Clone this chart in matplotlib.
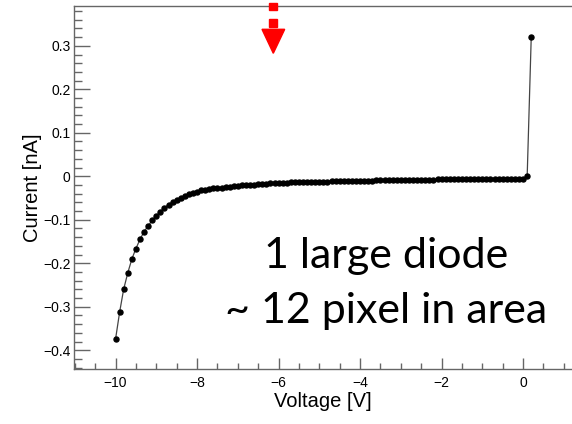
import numpy as np
import matplotlib
matplotlib.use("Agg")
import matplotlib.pyplot as plt
from matplotlib.ticker import MultipleLocator, FuncFormatter
from matplotlib.patches import Polygon, Rectangle

# voltage sweep, 0.1 V steps
voltage = np.round(np.linspace(-10.0, 0.2, 103), 1)
current = [
    -0.374, -0.312, -0.259, -0.222, -0.190, -0.166, -0.145, -0.127, -0.114, -0.101,
    -0.091, -0.081, -0.072, -0.065, -0.059, -0.054, -0.049, -0.045, -0.041, -0.038,
    -0.035, -0.032, -0.031, -0.030, -0.028, -0.027, -0.026, -0.025, -0.024, -0.023,
    -0.022, -0.021, -0.020, -0.019, -0.019, -0.018, -0.017, -0.017, -0.016, -0.016,
    -0.015, -0.015, -0.015, -0.014, -0.014, -0.014, -0.013, -0.013, -0.013, -0.012,
    -0.012, -0.012, -0.012, -0.011, -0.011, -0.011, -0.011, -0.011, -0.010, -0.010,
    -0.010, -0.010, -0.010, -0.010, -0.009, -0.009, -0.009, -0.009, -0.009, -0.009,
    -0.009, -0.008, -0.008, -0.008, -0.008, -0.008, -0.008, -0.008, -0.008, -0.007,
    -0.007, -0.007, -0.007, -0.007, -0.007, -0.007, -0.007, -0.007, -0.007, -0.007,
    -0.006, -0.006, -0.006, -0.006, -0.006, -0.006, -0.006, -0.006, -0.006, -0.006,
    -0.006, 0.000, 0.321,
]
note_lines = ["1 large diode", "~ 12 pixel in area"]

W, H = 572, 424
plt.rcParams["font.family"] = ["Liberation Sans", "DejaVu Sans"]

fig = plt.figure(figsize=(W / 100, H / 100), dpi=100)
ax = fig.add_axes([74 / W, (H - 369) / H, (W - 74) / W, 363 / H])

ax.plot(voltage, current, color="#444444", lw=0.9, marker="o", ms=3.6,
        mfc="black", mec="black", zorder=3)

ax.set_xlim(-11.02, 1.2)
ax.set_ylim(-0.443, 0.3915)

frame = "#666666"
for s in ["left", "bottom", "top"]:
    ax.spines[s].set_color(frame)
    ax.spines[s].set_linewidth(1.0)
ax.spines["right"].set_visible(False)

ax.xaxis.set_major_locator(MultipleLocator(2))
ax.xaxis.set_minor_locator(MultipleLocator(0.5))
ax.yaxis.set_major_locator(MultipleLocator(0.1))
ax.yaxis.set_minor_locator(MultipleLocator(0.02))


def fmt(v, _):
    s = "%g" % (round(v, 2) + 0.0)
    return s.replace("-", "\u2212")


ax.xaxis.set_major_formatter(FuncFormatter(fmt))
ax.yaxis.set_major_formatter(FuncFormatter(fmt))

ax.tick_params(axis="x", which="major", direction="in", length=8, width=1,
               color=frame, labelsize=10, pad=5, top=False)
ax.tick_params(axis="x", which="minor", direction="in", length=4.5, width=1,
               color=frame, top=False)
ax.tick_params(axis="y", which="major", direction="in", length=11.5, width=1,
               color=frame, labelsize=10, pad=2.5, right=False)
ax.tick_params(axis="y", which="minor", direction="in", length=6, width=1,
               color=frame, right=False)

ax.set_xlabel("Voltage [V]", fontsize=14.5)
ax.set_ylabel("Current [nA]", fontsize=14.5)
ax.xaxis.set_label_coords(0.5, -0.064)
ax.yaxis.set_label_coords(-0.064, 0.5)

# overlay text from the slide
fig.text(386 / W, 1 - 256 / H, note_lines[0], fontsize=31, family=["Lato", "DejaVu Sans"],
         ha="center", va="center")
fig.text(386 / W, 1 - 311 / H, note_lines[1], fontsize=31, family=["Lato", "DejaVu Sans"],
         ha="center", va="center")

# red dashed arrow
def px(x, y):
    return (x / W, 1 - y / H)

red = "#ff0000"
for y0, y1 in [(2.7, 10), (19, 26.7)]:
    x0, yb = px(269.3, y1)
    fig.patches.append(Rectangle((x0, yb), 8 / W, (y1 - y0) / H, transform=fig.transFigure,
                                 color=red, zorder=5))
fig.patches.append(Polygon([px(262, 29.3), px(284.7, 29.3), px(273.3, 53.3)], closed=True,
                           transform=fig.transFigure, color=red, zorder=5))

fig.savefig("out.png", dpi=100)
